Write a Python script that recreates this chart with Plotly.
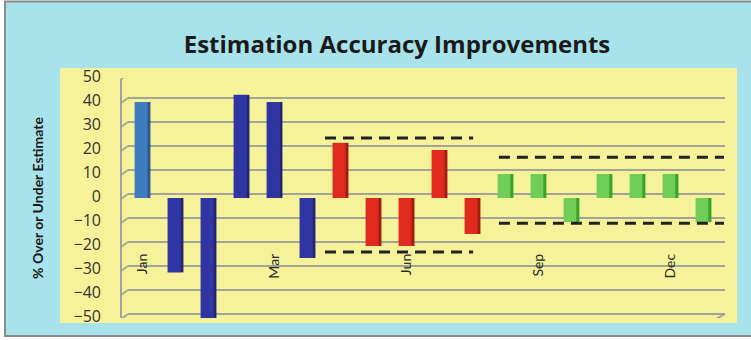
import plotly.graph_objects as go

# Monthly estimation error (% over / under estimate), one bar per period
periods = list(range(1, 19))
values = [40, -31, -50, 43, 40, -25,
          23, -20, -20, 20, -15,
          10, 10, -10, 10, 10, 10, -10]
phase = ["baseline", "early", "early", "early", "early", "early",
         "mid", "mid", "mid", "mid", "mid",
         "late", "late", "late", "late", "late", "late", "late"]

# Category tick labels (every fourth period is labelled)
tick_periods = [1, 5, 9, 13, 17]
tick_labels = ["Jan", "Mar", "Jun", "Sep", "Dec"]

# Tolerance bands: (x start, x end, upper limit, lower limit)
band_red = (6.53, 11.02, 25, -22.5)
band_green = (11.8, 18.62, 17, -10.5)

y_ticks = list(range(-50, 51, 10))

front_colors = {"baseline": "#3F7CC0", "early": "#2F36A3",
                "mid": "#E12A1E", "late": "#6FCD58"}
side_colors = {"baseline": "#2A5A94", "early": "#1E247C",
               "mid": "#A9170E", "late": "#36A52A"}

fig = go.Figure()

# front face of each bar
fig.add_trace(go.Bar(
    x=periods, y=values, width=0.38, offset=-0.24,
    marker=dict(color=[front_colors[p] for p in phase], line=dict(width=0)),
    showlegend=False, hoverinfo="skip"))
# darker side face for the 3-D look
fig.add_trace(go.Bar(
    x=periods, y=values, width=0.1, offset=0.14,
    marker=dict(color=[side_colors[p] for p in phase], line=dict(width=0)),
    showlegend=False, hoverinfo="skip"))

# dashed tolerance limits
for x0, x1, hi, lo in (band_red, band_green):
    for lvl in (hi, lo):
        fig.add_trace(go.Scatter(
            x=[x0, x1], y=[lvl, lvl], mode="lines",
            line=dict(color="#222222", width=3, dash="11px,7px"),
            showlegend=False, hoverinfo="skip"))

# plot area in pixels: x 128..725, y 78..318
PW, PH = 597, 240
def px_x(p):
    return (p - 128) / PW
def px_y(q):
    return (318 - q) / PH

shapes = []
# outer chart frame
shapes.append(dict(type="rect", xref="paper", yref="paper", layer="below",
                   x0=px_x(5), x1=px_x(770), y0=px_y(336), y1=px_y(1.5),
                   fillcolor="#A8E2EA", line=dict(color="#8C8C8C", width=2)))
# yellow plot panel
shapes.append(dict(type="rect", xref="paper", yref="paper", layer="below",
                   x0=px_x(60), x1=px_x(737), y0=px_y(323), y1=px_y(68),
                   fillcolor="#F6F29A", line=dict(width=0)))
grid = dict(color="#A3A39A", width=2)
# back-wall gridlines and side-wall connectors
for v in y_ticks:
    shapes.append(dict(type="line", layer="below", xref="paper", yref="y",
                       ysizemode="pixel", yanchor=v, x0=0, x1=1, y0=4, y1=4,
                       line=grid))
    shapes.append(dict(type="line", layer="below", xref="paper", yref="y",
                       xsizemode="pixel", xanchor=0, ysizemode="pixel",
                       yanchor=v, x0=-7, y0=-1, x1=0, y1=4, line=grid))
# side-wall front edge
shapes.append(dict(type="line", layer="below", xref="paper", yref="y",
                   xsizemode="pixel", xanchor=0, x0=-7, x1=-7,
                   y0=y_ticks[0] - 0.4, y1=y_ticks[-1] - 0.4, line=grid))
# floor front edge
shapes.append(dict(type="line", layer="below", xref="paper", yref="y",
                   xsizemode="pixel", xanchor=0, ysizemode="pixel",
                   yanchor=y_ticks[0], x0=-7, y0=-1, x1=PW - 9, y1=-1,
                   line=grid))
shapes.append(dict(type="line", layer="below", xref="paper", yref="y",
                   xsizemode="pixel", xanchor=0, ysizemode="pixel",
                   yanchor=y_ticks[0], x0=PW - 9, y0=-1, x1=PW, y1=4,
                   line=grid))

fig.update_layout(
    width=751, height=340,
    margin=dict(l=128, r=751 - 725, t=78, b=22),
    paper_bgcolor="white", plot_bgcolor="rgba(0,0,0,0)",
    barmode="overlay",
    shapes=shapes,
    title=dict(text="<b>Estimation Accuracy Improvements</b>",
               x=397 / 751, xref="container", xanchor="center",
               y=1 - 45 / 340, yref="container", yanchor="middle",
               font=dict(family="Open Sans", size=24, color="#1A1A1A")),
    xaxis=dict(range=[0.5606, 18.6515], tickmode="array",
               tickvals=tick_periods, ticktext=tick_labels, tickangle=-90,
               anchor="free", position=0.2833,
               showgrid=False, zeroline=False, showline=False, ticks="",
               tickfont=dict(family="Lato", size=14, color="#2A2A2A")),
    yaxis=dict(range=[-50, 50], tickmode="array", tickvals=y_ticks,
               showgrid=False, zeroline=False, showline=False, ticks="",
               ticklabelstandoff=26, ticklabelshift=-2,
               tickfont=dict(family="Open Sans", size=16, color="#333333"),
               title=dict(text="<b>% Over or Under Estimate</b>", standoff=26,
                          font=dict(family="Lato", size=14, color="#1A1A1A"))),
)

fig.write_html("out.html")
